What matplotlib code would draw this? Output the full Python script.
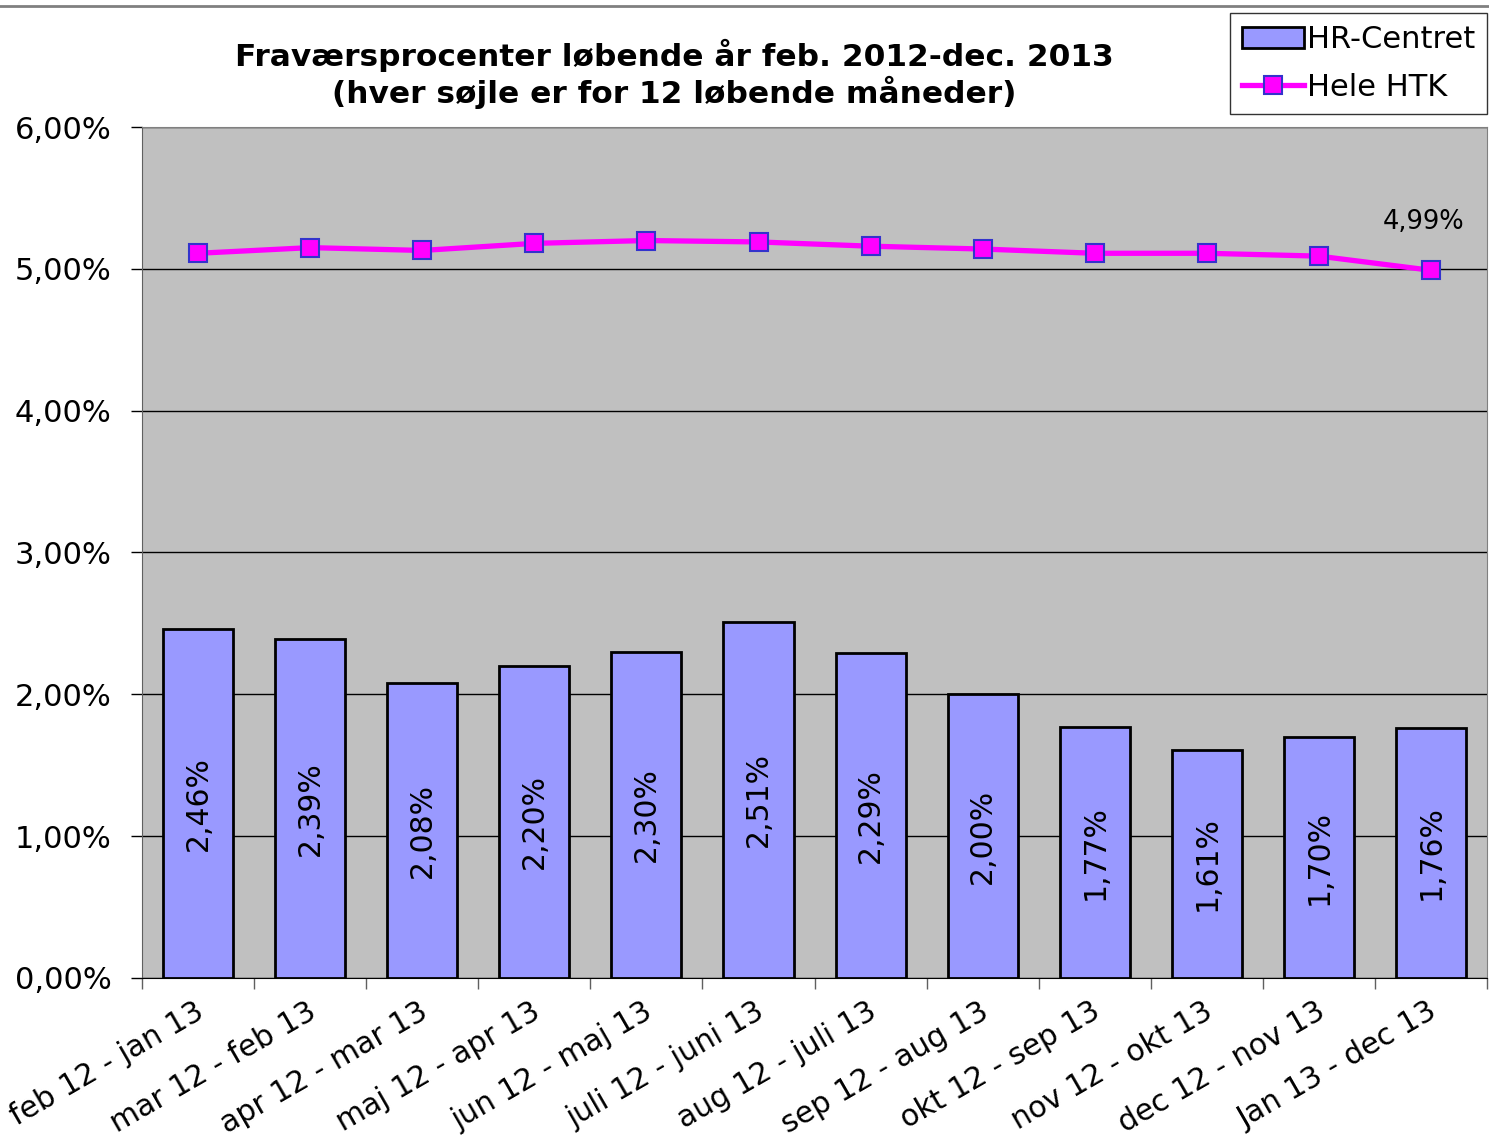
import matplotlib.pyplot as plt
import numpy as np

periods = ["feb 12 - jan 13", "mar 12 - feb 13", "apr 12 - mar 13", "maj 12 - apr 13",
           "jun 12 - maj 13", "juli 12 - juni 13", "aug 12 - juli 13", "sep 12 - aug 13",
           "okt 12 - sep 13", "nov 12 - okt 13", "dec 12 - nov 13", "Jan 13 - dec 13"]
hr_centret = [2.46, 2.39, 2.08, 2.20, 2.30, 2.51, 2.29, 2.00, 1.77, 1.61, 1.70, 1.76]
hele_htk = [5.11, 5.15, 5.13, 5.18, 5.20, 5.19, 5.16, 5.14, 5.11, 5.11, 5.09, 4.99]
yticks = [0, 1, 2, 3, 4, 5, 6]

def pct(v):
    return f"{v:.2f}%".replace(".", ",")

fig = plt.figure(figsize=(14.89, 11.45), dpi=100)
ax = fig.add_axes([0.0954, 0.146, 0.9033, 0.743])
ax.set_facecolor("#C0C0C0")

x = np.arange(len(periods))
ax.set_axisbelow(True)
ax.grid(axis="y", color="black", linewidth=1)
bars = ax.bar(x, hr_centret, width=0.625, color="#9999FF", edgecolor="black",
              linewidth=2, label="HR-Centret", zorder=2)
line, = ax.plot(x, hele_htk, color="#FF00FF", linewidth=3.8, marker="s", markersize=13,
                markerfacecolor="#FF00FF", markeredgecolor="#3333CC", markeredgewidth=1.5,
                label="Hele HTK", zorder=3)

# labels centred in each bar
for xi, v in zip(x, hr_centret):
    ax.text(xi, v / 2, pct(v), rotation=90, ha="center", va="center", fontsize=21.5, zorder=4)
ax.text(x[-1] - 0.07, hele_htk[-1] + 0.25, pct(hele_htk[-1]), ha="center", va="bottom",
        fontsize=18.5)

ax.set_xlim(-0.5, len(periods) - 0.5)
ax.set_ylim(0, 6)
ax.set_yticks(yticks)
ax.set_yticklabels([pct(v) for v in yticks], fontsize=22)
ax.set_xticks(np.arange(len(periods) + 1) - 0.5)
ax.set_xticklabels([])
ax.tick_params(axis="x", length=8, width=1, direction="out", color="#606060")
ax.tick_params(axis="y", length=8, width=1, direction="out", pad=14)
for xi, lab in zip(x, periods):
    ax.text(xi + 0.03, -0.22, lab, rotation=30, rotation_mode="anchor", ha="right",
            va="center", fontsize=21.5, clip_on=False)

for side in ["top", "right"]:
    ax.spines[side].set_color("#808080")
ax.spines["left"].set_color("#606060")
ax.spines["bottom"].set_color("black")

fig.text(0.453, 0.952, "Fraværsprocenter løbende år feb. 2012-dec. 2013",
         ha="center", va="center", fontsize=22.5, fontweight="bold")
fig.text(0.453, 0.919, "(hver søjle er for 12 løbende måneder)",
         ha="center", va="center", fontsize=22.5, fontweight="bold")

leg = fig.legend([bars, line], ["HR-Centret", "Hele HTK"], loc="upper right",
                 bbox_to_anchor=(0.9987, 0.9886), borderaxespad=0, fontsize=22,
                 frameon=True, fancybox=False, edgecolor="black", borderpad=0.4,
                 handlelength=2.0, handletextpad=0.1, labelspacing=0.6)
leg.get_frame().set_linewidth(1)

fig.add_artist(plt.Line2D([0, 1], [0.995, 0.995], color="#808080", linewidth=2))

fig.savefig("out.png", dpi=100)
